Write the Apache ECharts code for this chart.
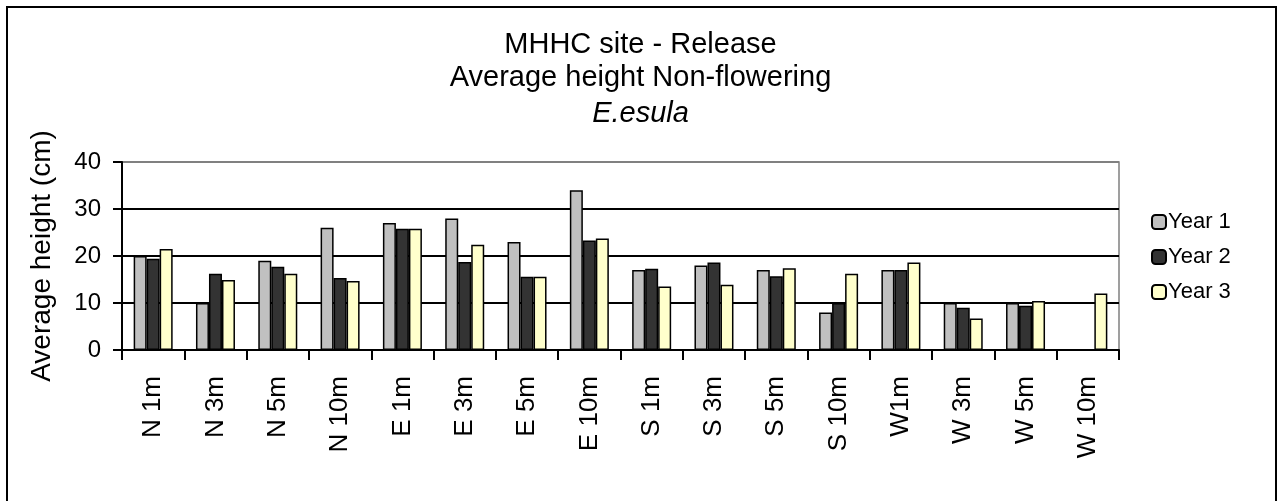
<!DOCTYPE html>
<html>
<head>
<meta charset="utf-8">
<script src="https://cdn.jsdelivr.net/npm/echarts@6/dist/echarts.min.js"></script>
<style>
  html, body { margin: 0; padding: 0; background: #fff; }
  #main { width: 1281px; height: 501px; }
</style>
</head>
<body>
<div id="main"></div>
<script>
// data
var categories = ['N 1m', 'N 3m', 'N 5m', 'N 10m', 'E 1m', 'E 3m', 'E 5m', 'E 10m',
  'S 1m', 'S 3m', 'S 5m', 'S 10m', 'W1m', 'W 3m', 'W 5m', 'W 10m'];
var year1 = [20, 10, 19, 26, 27, 28, 23, 34, 17, 18, 17, 8, 17, 10, 10, null];
var year2 = [19.4, 16.2, 17.7, 15.3, 25.8, 18.7, 15.6, 23.3, 17.3, 18.6, 15.7, 10, 17, 9, 9.4, null];
var year3 = [21.5, 14.9, 16.2, 14.7, 25.8, 22.4, 15.6, 23.7, 13.5, 13.9, 17.4, 16.2, 18.6, 6.7, 10.4, 12];
var yTicks = [0, 10, 20, 30, 40];

var font = 'Liberation Sans, Arial, sans-serif';

var myChart = echarts.init(document.getElementById('main'));

function barSeries(name, data, color) {
  return {
    name: name,
    type: 'bar',
    data: data,
    barWidth: 13,
    barGap: '0%',
    itemStyle: { color: color, borderColor: '#000', borderWidth: 1.5 }
  };
}

var titleStyle = { fontSize: 29, lineHeight: 33, color: '#000', fontFamily: font, fontWeight: 'normal' };

var option = {
  animation: false,
  textStyle: { fontFamily: font },
  title: [{
    text: 'MHHC site - Release\nAverage height Non-flowering',
    left: 'center',
    top: 28,
    padding: 0,
    textStyle: titleStyle
  }, {
    text: 'E.esula',
    left: 'center',
    top: 97,
    padding: 0,
    textStyle: Object.assign({}, titleStyle, { fontStyle: 'italic' })
  }],
  legend: {
    orient: 'vertical',
    left: 1151,
    top: 211,
    padding: 0,
    itemWidth: 14,
    itemHeight: 14,
    itemGap: 13,
    textStyle: { fontSize: 22, color: '#000', fontFamily: font, padding: [0, 0, 0, -3] },
    data: ['Year 1', 'Year 2', 'Year 3']
  },
  grid: {
    left: 122, right: 162, top: 162, bottom: 151,
    show: true,
    borderColor: '#808080',
    borderWidth: 1.5
  },
  xAxis: {
    type: 'category',
    data: categories,
    axisLine: { lineStyle: { color: '#000', width: 2 } },
    axisTick: { show: true, length: 10, lineStyle: { color: '#000', width: 2 } },
    axisLabel: { rotate: 90, fontSize: 26, color: '#000', margin: 26, fontFamily: font }
  },
  yAxis: {
    type: 'value',
    min: yTicks[0],
    max: yTicks[yTicks.length - 1],
    interval: 10,
    name: 'Average height (cm)',
    nameLocation: 'middle',
    nameGap: 66,
    nameTextStyle: { fontSize: 28, color: '#000', fontFamily: font },
    axisLine: { show: true, lineStyle: { color: '#000', width: 2 } },
    axisTick: { show: true, length: 9, lineStyle: { color: '#000', width: 2 } },
    axisLabel: { fontSize: 24, color: '#000', margin: 21, fontFamily: font },
    splitLine: { lineStyle: { color: ['#000', '#000', '#000', '#000', '#808080'], width: 2 } }
  },
  graphic: [{
    type: 'rect',
    shape: { x: 7, y: 7, width: 1269, height: 520 },
    style: { fill: 'none', stroke: '#000', lineWidth: 2 },
    silent: true
  }],
  series: [
    barSeries('Year 1', year1, '#c0c0c0'),
    barSeries('Year 2', year2, '#333333'),
    barSeries('Year 3', year3, '#ffffcc')
  ]
};

myChart.setOption(option);
</script>
</body>
</html>
